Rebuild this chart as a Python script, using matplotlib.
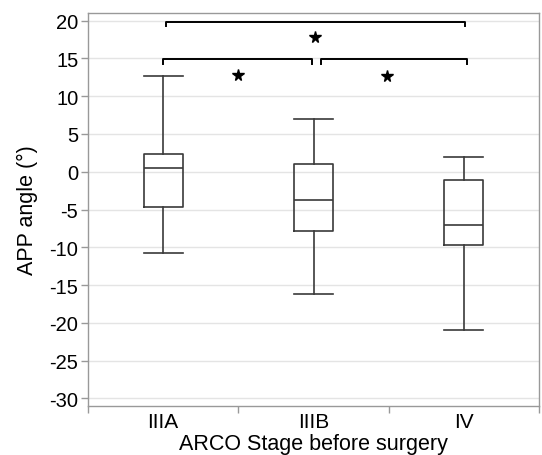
import matplotlib
matplotlib.use("Agg")
import matplotlib.pyplot as plt

plt.rcParams['font.family'] = ['Liberation Sans', 'DejaVu Sans']
plt.rcParams['axes.unicode_minus'] = False

categories = ["IIIA", "IIIB", "IV"]
whisker_low = [-10.8, -16.2, -21.0]
q1 = [-4.7, -7.9, -9.7]
median = [0.5, -3.8, -7.0]
q3 = [2.4, 1.0, -1.1]
whisker_high = [12.7, 7.0, 2.0]

# significance brackets: (x start, x end, bar y, leg bottom y)
brackets = [
    (0.52, 2.51, 19.85, 19.25),
    (0.50, 1.49, 14.9, 14.2),
    (1.55, 2.52, 14.9, 14.2),
]
stars = [(1.51, 17.8), (0.995, 12.8), (1.99, 12.7)]

fig = plt.figure(figsize=(5.42, 4.56), dpi=100)
ax = fig.add_axes([88/542, 1-407/456, (539-88)/542, (407-14)/456])

positions = [i + 0.5 for i in range(len(categories))]
stats = []
for i, c in enumerate(categories):
    stats.append(dict(label=c, whislo=whisker_low[i], q1=q1[i], med=median[i],
                      q3=q3[i], whishi=whisker_high[i], fliers=[]))

lc = '#3a3a3a'
lw = 1.2
ax.bxp(stats, positions=positions, widths=0.26, capwidths=0.26,
       showfliers=False, patch_artist=False,
       boxprops=dict(color=lc, linewidth=lw),
       whiskerprops=dict(color=lc, linewidth=lw),
       capprops=dict(color=lc, linewidth=lw),
       medianprops=dict(color=lc, linewidth=lw), zorder=3)

for x0, x1, y, yl in brackets:
    ax.plot([x0, x0, x1, x1], [yl, y, y, yl], color='black', linewidth=1.4,
            solid_joinstyle='round', zorder=4)
for sx, sy in stars:
    ax.plot([sx], [sy], marker='*', color='black', markersize=8.5, zorder=4)

ax.set_xlim(0, 3)
ax.set_ylim(-31, 21)
ax.set_yticks(range(-30, 21, 5))
ax.yaxis.grid(True, color='#e4e4e4', linewidth=1.0)
ax.set_axisbelow(True)

ax.set_xticks(positions)
ax.set_xticklabels(categories)
ax.set_xticks([0, 1, 2, 3], minor=True)
ax.tick_params(axis='x', which='major', length=0, pad=4, labelsize=15)
ax.tick_params(axis='x', which='minor', length=5, color='#999999', width=1)
ax.tick_params(axis='y', length=5, color='#999999', width=1, pad=2, labelsize=14.5)

for s in ax.spines.values():
    s.set_color('#999999')
    s.set_linewidth(1.0)

ax.set_xlabel("ARCO Stage before surgery", fontsize=15.5, labelpad=2)
ax.set_ylabel("APP angle (°)", fontsize=15.5, labelpad=8)

fig.savefig("out.png", dpi=100)
